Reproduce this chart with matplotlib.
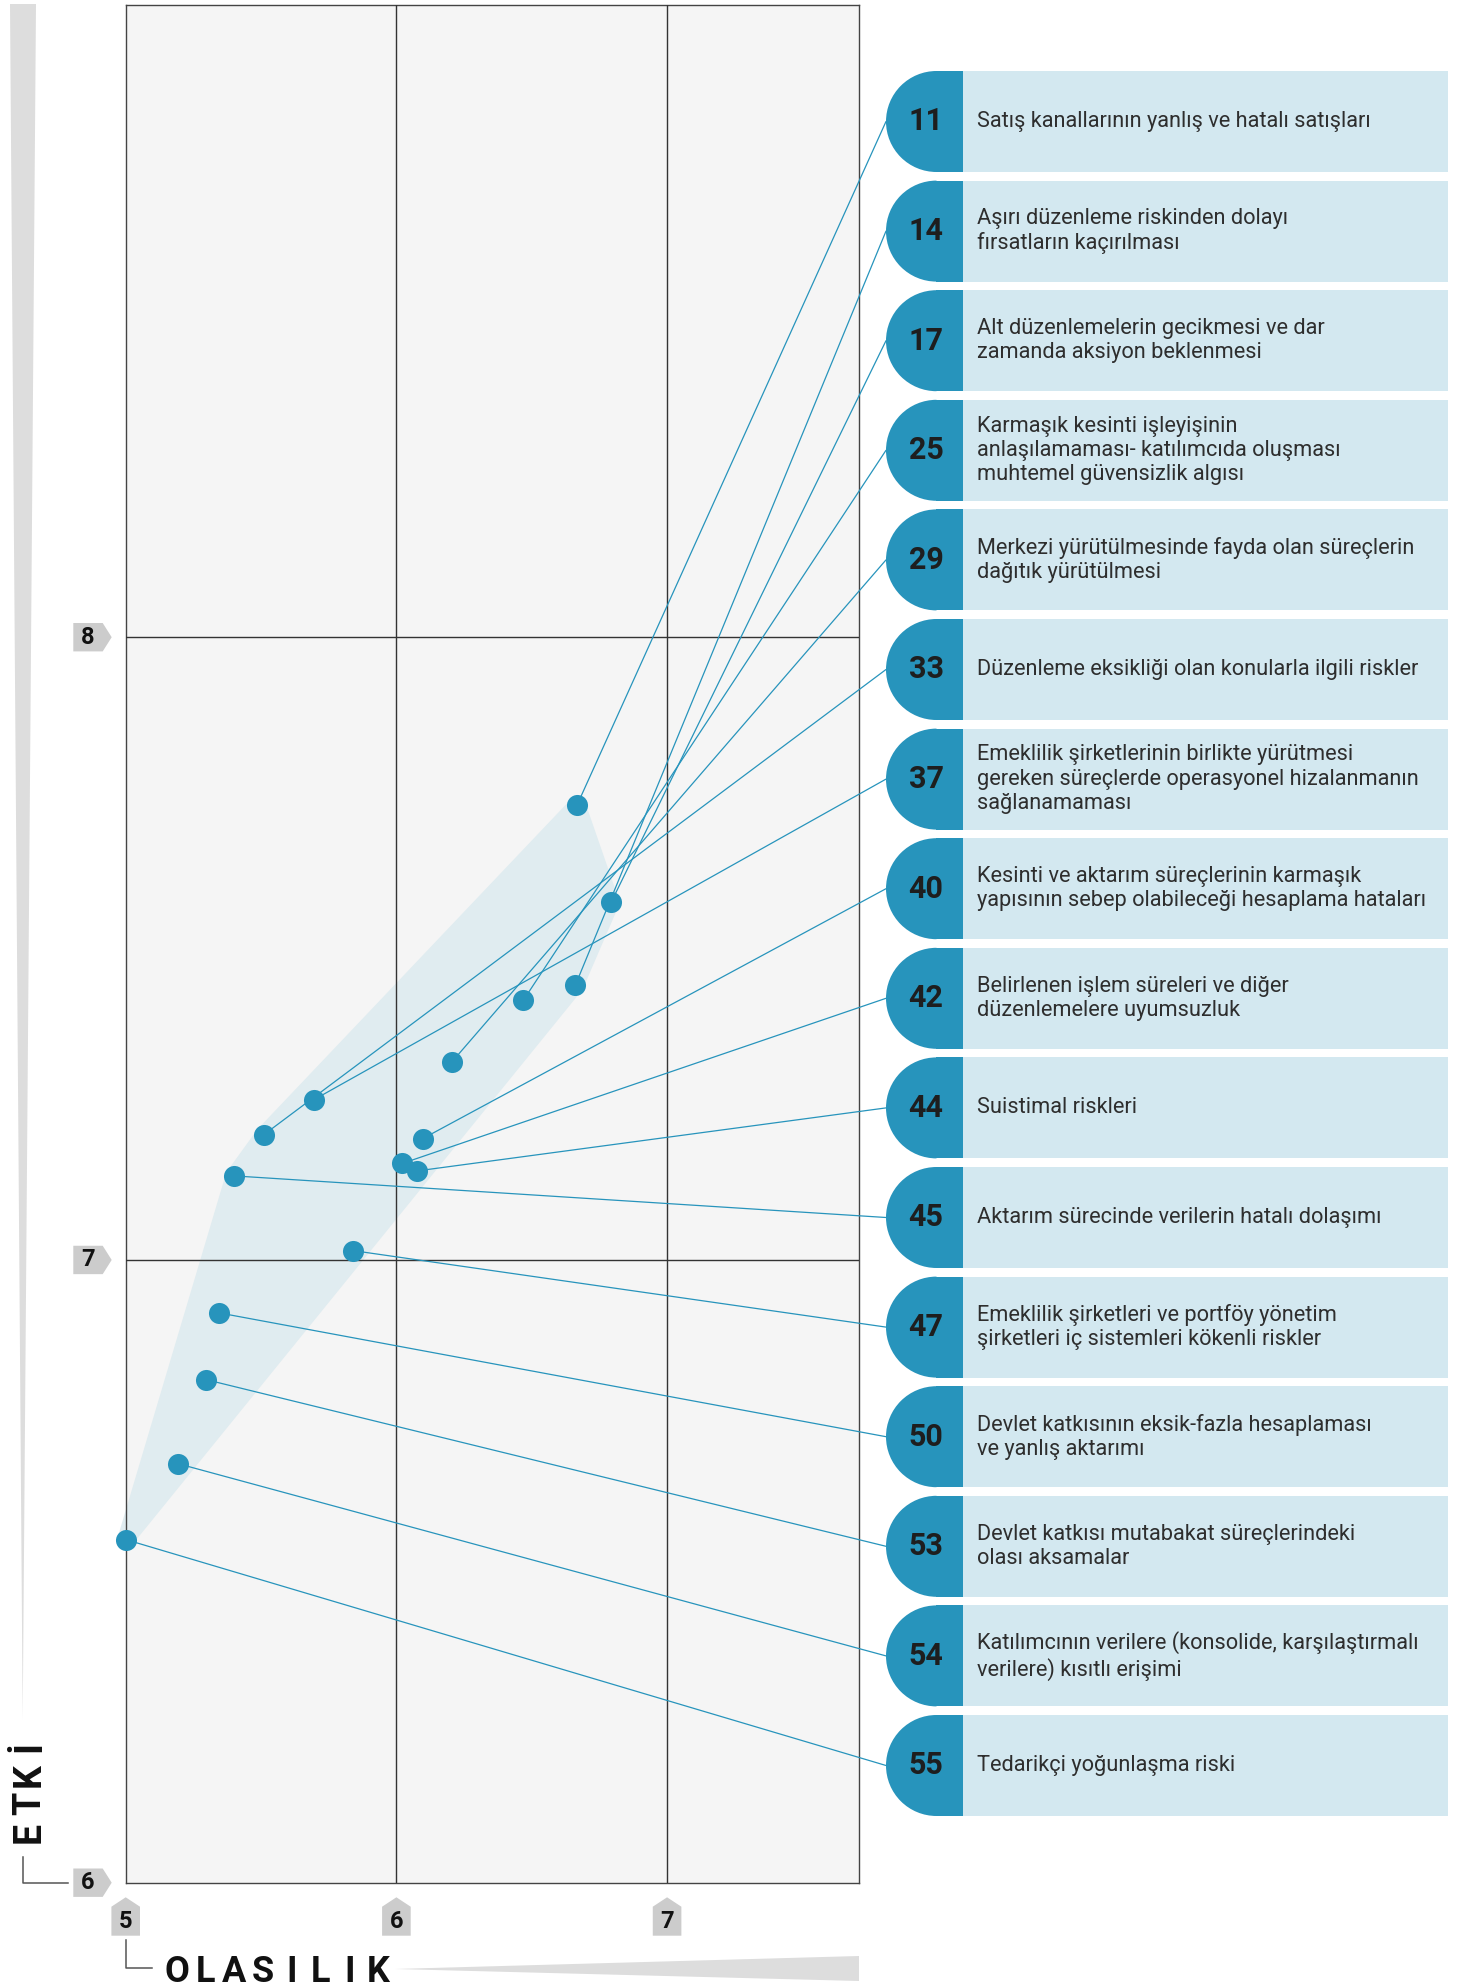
import matplotlib.pyplot as plt
from matplotlib.patches import ConnectionPatch, Polygon, Rectangle, Wedge
import numpy as np

# risk ids and texts (label column on the right)
risk_ids = ['11', '14', '17', '25', '29', '33', '37', '40',
            '42', '44', '45', '47', '50', '53', '54', '55']
risk_text = [
    'Satış kanallarının yanlış ve hatalı satışları',
    'Aşırı düzenleme riskinden dolayı\nfırsatların kaçırılması',
    'Alt düzenlemelerin gecikmesi ve dar\nzamanda aksiyon beklenmesi',
    'Karmaşık kesinti işleyişinin\nanlaşılamaması- katılımcıda oluşması\nmuhtemel güvensizlik algısı',
    'Merkezi yürütülmesinde fayda olan süreçlerin\ndağıtık yürütülmesi',
    'Düzenleme eksikliği olan konularla ilgili riskler',
    'Emeklilik şirketlerinin birlikte yürütmesi\ngereken süreçlerde operasyonel hizalanmanın\nsağlanamaması',
    'Kesinti ve aktarım süreçlerinin karmaşık\nyapısının sebep olabileceği hesaplama hataları',
    'Belirlenen işlem süreleri ve diğer\ndüzenlemelere uyumsuzluk',
    'Suistimal riskleri',
    'Aktarım sürecinde verilerin hatalı dolaşımı',
    'Emeklilik şirketleri ve portföy yönetim\nşirketleri iç sistemleri kökenli riskler',
    'Devlet katkısının eksik-fazla hesaplaması\nve yanlış aktarımı',
    'Devlet katkısı mutabakat süreçlerindeki\nolası aksamalar',
    'Katılımcının verilere (konsolide, karşılaştırmalı\nverilere) kısıtlı erişimi',
    'Tedarikçi yoğunlaşma riski',
]
# olasilik (x) and etki (y)
olasilik = [6.668, 6.661, 6.793, 6.469, 6.205, 5.510, 5.694, 6.098,
            6.022, 6.077, 5.400, 5.840, 5.345, 5.295, 5.192, 5.000]
etki = [7.731, 7.441, 7.574, 7.417, 7.318, 7.201, 7.257, 7.195,
        7.155, 7.143, 7.135, 7.015, 6.915, 6.808, 6.673, 6.551]
x_ticks = [5, 6, 7]
y_ticks = [6, 7, 8]

FONT = ['Roboto', 'DejaVu Sans']
BLUE = '#2794bc'
W, H = 1466, 1988

fig = plt.figure(figsize=(W / 100, H / 100), dpi=100)
ax = fig.add_axes([125.7 / W, 1 - 1882.7 / H, (859 - 125.7) / W, (1882.7 - 4.5) / H])
ax.set_xlim(5, 7.709)
ax.set_ylim(6, 9.016)
ax.set_facecolor('#f5f5f5')
ax.set_xticks(x_ticks[1:])
ax.set_yticks(y_ticks[1:])
ax.tick_params(length=0, labelbottom=False, labelleft=False)
ax.grid(True, color='#333333', lw=1.0)
ax.set_axisbelow(False)
for s in ax.spines.values():
    s.set_color('#444444')
    s.set_linewidth(1.0)

# overlay in figure pixels (y down)
ov = fig.add_axes([0, 0, 1, 1])
ov.set_xlim(0, W)
ov.set_ylim(H, 0)
ov.axis('off')
ov.patch.set_visible(False)


def to_px(x, y):
    px, py = ax.transData.transform((x, y))
    return px, H - py


# shaded band = convex hull of points, padded with a thick round edge
def hull(pts):
    pts = sorted(set(pts))
    def cross(o, a, b):
        return (a[0] - o[0]) * (b[1] - o[1]) - (a[1] - o[1]) * (b[0] - o[0])
    lower, upper = [], []
    for p in pts:
        while len(lower) >= 2 and cross(lower[-2], lower[-1], p) <= 0:
            lower.pop()
        lower.append(p)
    for p in reversed(pts):
        while len(upper) >= 2 and cross(upper[-2], upper[-1], p) <= 0:
            upper.pop()
        upper.append(p)
    return lower[:-1] + upper[:-1]

hp = hull(list(zip(olasilik, etki)))
band = Polygon(hp, closed=True, facecolor='#e0ecf0', edgecolor='#e0ecf0',
               lw=12, joinstyle='round', zorder=1, clip_on=False)
ax.add_patch(band)

ax.scatter(olasilik, etki, s=230, color=BLUE, zorder=4, clip_on=False, linewidths=0)

# label column
box_top0, pitch, box_h = 71, 109.6, 101
for i, (rid, txt) in enumerate(zip(risk_ids, risk_text)):
    top = box_top0 + pitch * i
    cy = top + box_h / 2
    ov.add_patch(Rectangle((962.7, top), 1448.3 - 962.7, box_h, color='#d3e8f0', lw=0))
    ov.add_patch(Wedge((936.5, cy), box_h / 2, 90, 270, color=BLUE, lw=0))
    ov.add_patch(Rectangle((936, top), 962.7 - 936, box_h, color=BLUE, lw=0))
    ov.text(926, cy, rid, ha='center', va='center', fontsize=22,
            fontweight='bold', family=FONT, color='#1e1e1e')
    ov.text(977, cy, txt, ha='left', va='center', fontsize=15.7, family=FONT,
            color='#2e2e2e', linespacing=1.2)
    cp = ConnectionPatch(xyA=(olasilik[i], etki[i]), coordsA=ax.transData,
                         xyB=(886, cy), coordsB=ov.transData,
                         color=BLUE, lw=0.9, zorder=3)
    ax.add_artist(cp)
    cp.set_clip_on(False)

# tick badges
for t in x_ticks:
    cx, _ = to_px(t, 6)
    ov.add_patch(Polygon([(cx - 14.3, 1935.7), (cx - 14.3, 1906.7), (cx, 1897.3),
                          (cx + 14.3, 1906.7), (cx + 14.3, 1935.7)], color='#cccccc', lw=0))
    ov.text(cx, 1921.5, str(t), ha='center', va='center', fontsize=17,
            fontweight='bold', family=FONT, color='#111111')
for t in y_ticks:
    _, cy = to_px(5, t)
    ov.add_patch(Polygon([(73.3, cy - 14.2), (102.7, cy - 14.2), (111.7, cy),
                          (102.7, cy + 14.2), (73.3, cy + 14.2)], color='#cccccc', lw=0))
    ov.text(88, cy, str(t), ha='center', va='center', fontsize=17,
            fontweight='bold', family=FONT, color='#111111')

# gray direction wedges
ov.add_patch(Polygon([(10, 4), (36, 4), (22.7, 1720)], color='#dddddd', lw=0))
ov.add_patch(Polygon([(395, 1969), (859, 1956), (859, 1981)], color='#dddddd', lw=0))

# axis titles with little L connectors
_, y6 = to_px(5, 6)
ov.plot([22.7, 22.7, 68.3], [1856.7, y6, y6], color='#555555', lw=1.1)
ov.plot([125.7, 125.7, 151.7], [1940, 1968.3, 1968.3], color='#555555', lw=1.1)
for k, ch in enumerate('ETKİ'):
    ov.text(40, 1832 - 28.5 * k, ch, rotation=90, rotation_mode='anchor',
            ha='center', va='baseline', fontsize=27, fontweight='bold',
            family=FONT, color='#111111')
for k, ch in enumerate('OLASILIK'):
    ov.text(177 + 28.7 * k, 1982.5, ch, ha='center', va='baseline', fontsize=26,
            fontweight='bold', family=FONT, color='#111111')

fig.savefig('out.png', dpi=100)
